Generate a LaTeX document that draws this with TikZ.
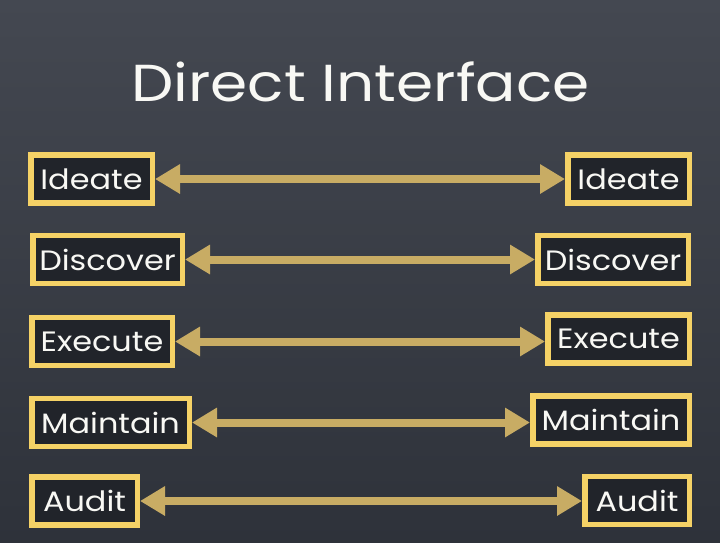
\documentclass[tikz,border=0pt]{standalone}
\usepackage{fontspec}
\setmainfont{Poppins}
\usetikzlibrary{arrows.meta}
\definecolor{boardtop}{RGB}{68,72,81}
\definecolor{boardbot}{RGB}{46,50,58}
\definecolor{boxfill}{RGB}{33,36,42}
\definecolor{frameyel}{RGB}{245,210,102}
\definecolor{arrowgold}{RGB}{200,172,100}
\definecolor{chalk}{RGB}{248,248,244}
\newcommand{\chalkfit}[2]{\scalebox{#1}[1]{#2}}
\newcommand{\lbl}[1]{\chalkfit{1.14}{#1}}
\tikzset{
  labelbox/.style={draw=frameyel, line width=5.5pt, fill=boxfill, inner sep=0pt,
    minimum height=48pt, text=chalk, font=\fontsize{28}{31}\selectfont},
  link/.style={draw=arrowgold, line width=8pt,
    {Triangle[length=25pt,width=28pt]}-{Triangle[length=25pt,width=28pt]}},
  titletext/.style={text=chalk, font=\fontsize{52}{58}\selectfont, inner sep=0pt}
}
\begin{document}
\begin{tikzpicture}[x=1pt,y=-1pt]
\useasboundingbox (0,0) rectangle (720,542);
\shade[top color=boardtop, bottom color=boardbot] (0,0) rectangle (720,542);
\node[titletext] (title) at (360.5,82) {\chalkfit{1.15}{Direct Interface}};
% left column
\node[labelbox, minimum width=121.5pt] (l1) at (91.5,179) {\lbl{Ideate}};
\node[labelbox, minimum width=149.5pt] (l2) at (107.5,259.5) {\lbl{Discover}};
\node[labelbox, minimum width=140.5pt] (l3) at (102,341.5) {\lbl{Execute}};
\node[labelbox, minimum width=157.5pt] (l4) at (110.5,422.5) {\lbl{Maintain}};
\node[labelbox, minimum width=105.5pt] (l5) at (84.5,501) {\lbl{Audit}};
% right column
\node[labelbox, minimum width=121.5pt] (r1) at (628.5,179) {\lbl{Ideate}};
\node[labelbox, minimum width=150.5pt] (r2) at (613,259.5) {\lbl{Discover}};
\node[labelbox, minimum width=141.5pt] (r3) at (618.5,339) {\lbl{Execute}};
\node[labelbox, minimum width=156.5pt] (r4) at (611,420) {\lbl{Maintain}};
\node[labelbox, minimum width=104.5pt] (r5) at (637,500.5) {\lbl{Audit}};
% connectors
\draw[link] (l1.east) -- (r1.west);
\draw[link] (l2.east) -- (r2.west);
\draw[link] (l3.east) -- (l3.east -| r3.west);
\draw[link] (l4.east) -- (l4.east -| r4.west);
\draw[link] (l5.east) -- (l5.east -| r5.west);
\end{tikzpicture}
\end{document}
